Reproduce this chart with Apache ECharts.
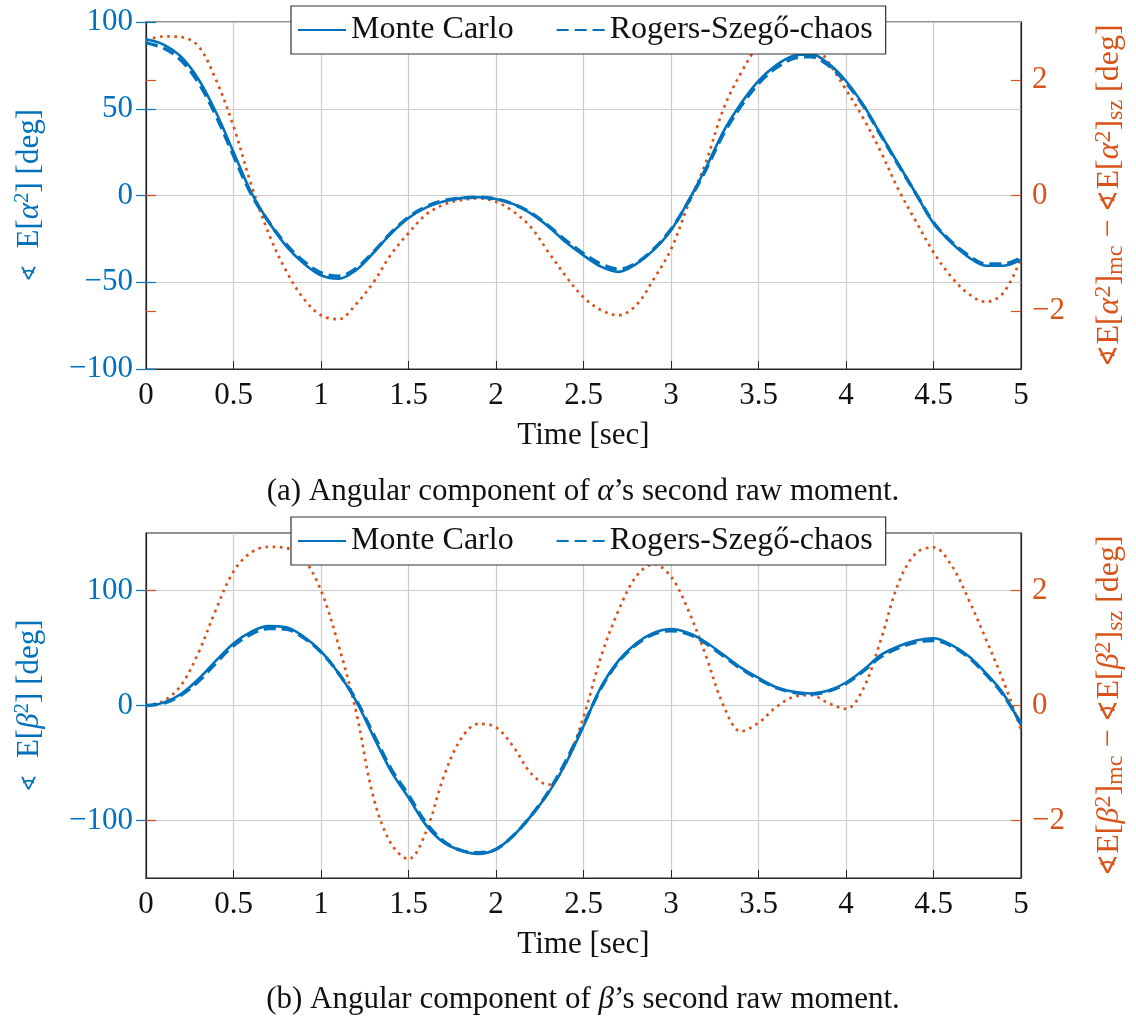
<!DOCTYPE html>
<html><head><meta charset="utf-8">
<script src="https://cdn.jsdelivr.net/npm/echarts@6/dist/echarts.min.js"></script>
<style>html,body{margin:0;padding:0;background:#fff}#c{width:1136px;height:1023px}</style>
</head><body><div id="c"></div>
<script>
// ---------- data ----------
const times = [0,0.1,0.2,0.3,0.4,0.5,0.6,0.7,0.8,0.9,1.0,1.1,1.2,1.3,1.4,1.5,1.6,1.7,1.8,1.9,2.0,2.1,2.2,2.3,2.4,2.5,2.6,2.7,2.8,2.9,3.0,3.1,3.2,3.3,3.4,3.5,3.6,3.7,3.8,3.9,4.0,4.1,4.2,4.3,4.4,4.5,4.6,4.7,4.8,4.9,5.0];

const alphaMonteCarlo = [90,87,80,67,48,25,2,-15,-29,-39, -46,-48,-43,-33,-22,-13,-7,-3.5,-1.5,-1, -2,-5,-10.5,-18,-27,-34.5,-41,-44,-39.5,-31.5, -20,-3,16,37,53,66,75,80.5,81.5,76, 66,52,35,18,1,-16,-27,-35.5,-40.5,-40.5,-37];
const alphaRogersSzego = [88,85,78,65,46,23,1,-15,-28,-38, -44.5,-46.5,-42,-32.5,-21.5,-12.5,-6.5,-3,-1.5,-1, -2,-5,-10,-17.5,-26,-33.5,-39.5,-42.5,-39,-31, -19.5,-3.5,15,35.5,51.5,64.5,73.5,79,80,75, 65,51.5,34.5,17.5,1,-15.5,-26.5,-34.5,-39.5,-39.5,-36];
const alphaDifference = [2.68,2.75,2.74,2.58,2.0,1.2,0.2,-0.65,-1.3,-1.78, -2.07,-2.14,-1.88,-1.5,-1.02,-0.65,-0.33,-0.16,-0.08,-0.05, -0.11,-0.28,-0.55,-0.98,-1.4,-1.76,-1.98,-2.07,-1.9,-1.45, -0.93,-0.15,0.58,1.5,2.12,2.6,2.9,2.95,2.72,2.3, 1.83,1.33,0.75,0.1,-0.45,-0.98,-1.4,-1.7,-1.84,-1.68,-1.09];

const betaMonteCarlo = [0,2.5,10,23,39,54,64,69,68,60, 47,28,4,-27,-57,-80,-104,-119,-126,-129, -125,-113,-96,-76,-50,-18,16,39,54,63, 66.5,63,55,44,33,24,16,12,10.5,13, 20,31,44,51.5,56.5,58.5,53,43,28,10,-17];
const betaRogersSzego = [0,2,9,21,37,52,62,67,66.5,59, 46.5,28,5,-25,-55,-78,-102,-118,-126,-128, -125,-113,-96,-75,-48,-17,15,38,53,62, 65,62,54,43,32,23,15.5,11.5,10,12.5, 19,30,42.5,50,55,56.5,52,42,27,9,-16];
const betaDifference = [0,0.08,0.35,0.92,1.67,2.33,2.66,2.76,2.74,2.55, 2.0,1.05,-0.1,-1.6,-2.4,-2.67,-2.2,-1.25,-0.58,-0.32, -0.38,-0.72,-1.18,-1.38,-1.0,-0.2,0.85,1.65,2.24,2.46, 2.24,1.65,0.86,0.0,-0.45,-0.3,-0.03,0.15,0.18,0.04, -0.06,0.3,1.15,2.13,2.65,2.75,2.45,1.85,1.15,0.42,-0.42];

const seriesNames = ['Monte Carlo', 'Rogers-Szegő-chaos'];
const xTickValues = {min: 0, max: 5, interval: 0.5};
const alphaLeftTicks = {min: -100, max: 100, interval: 50};
const betaLeftRange = {min: -150, max: 150};
const betaLeftTickValues = [-100, 0, 100];
const rightRange = {min: -3, max: 3};
const rightTickValues = [-2, 0, 2];

// ---------- style ----------
const FONT = '"Liberation Serif", "DejaVu Serif", serif';
const BLUE = '#0072BD';
const ORANGE = '#D95319';
const DARK = '#262626';
const GRIDC = '#cccccc';
const FS = 31;
const pair = arr => times.map((t, i) => [t, arr[i]]);
const minus = v => String(v).replace('-', '\u2212');

function richFor(color, big) {
  const main = big ? 32 : FS, small = big ? 24 : 21, ang = big ? 26 : 21;
  return {
    a: {fontFamily: FONT, fontSize: main, color: color, lineHeight: 36},
    g: {fontFamily: FONT, fontSize: ang, color: color, lineHeight: 36},
    i: {fontFamily: FONT, fontSize: main, fontStyle: 'italic', color: color, lineHeight: 36},
    s: {fontFamily: FONT, fontSize: small, color: color, verticalAlign: 'top', lineHeight: small},
    b: {fontFamily: FONT, fontSize: small, color: color, verticalAlign: 'bottom', lineHeight: small}
  };
}

const grids = [
  {left: 146, right: 114, top: 22, height: 347, show: true, borderColor: DARK, borderWidth: 1.2, backgroundColor: 'transparent'},
  {left: 146, right: 114, top: 533, height: 345, show: true, borderColor: DARK, borderWidth: 1.2, backgroundColor: 'transparent'}
];

function xAxis(g) {
  return {
    type: 'value', gridIndex: g, min: xTickValues.min, max: xTickValues.max, interval: xTickValues.interval,
    axisLine: {show: true, onZero: false, lineStyle: {color: DARK, width: 1.2}},
    axisTick: {show: true, inside: true, length: 8, lineStyle: {color: DARK}},
    axisLabel: {color: '#111', fontFamily: FONT, fontSize: FS, margin: 11},
    splitLine: {show: true, lineStyle: {color: GRIDC, width: 1.2}},
    name: 'Time [sec]', nameLocation: 'middle', nameGap: 51,
    nameTextStyle: {color: '#111', fontFamily: FONT, fontSize: FS}
  };
}

function leftMain(g, range, interval, customTicks, sym) {
  const ax = {
    type: 'value', gridIndex: g, position: 'left', min: range.min, max: range.max,
    axisLine: {show: true, onZero: false, lineStyle: {color: DARK, width: 1.2}},
    axisTick: {show: true, inside: true, length: 10, lineStyle: {color: BLUE, width: 1.2}},
    axisLabel: {color: BLUE, fontFamily: FONT, fontSize: FS, margin: 13, formatter: minus},
    splitLine: {show: true, lineStyle: {color: GRIDC, width: 1.2}},
    name: '{g|∢}{a|  E[}{i|' + sym + '}{s|2}{a|] [deg]}', nameLocation: 'middle', nameGap: 98,
    nameTextStyle: {rich: richFor(BLUE, false)}
  };
  if (interval) ax.interval = interval;
  if (customTicks) { ax.axisTick.customValues = customTicks; ax.axisLabel.customValues = customTicks; }
  return ax;
}
function rightMain(g, sym) {
  return {
    type: 'value', gridIndex: g, position: 'right', min: rightRange.min, max: rightRange.max, interval: 1,
    axisLine: {show: true, onZero: false, lineStyle: {color: DARK, width: 1.2}},
    axisTick: {show: true, inside: true, length: 10, customValues: rightTickValues, lineStyle: {color: ORANGE, width: 1.2}},
    axisLabel: {color: ORANGE, fontFamily: FONT, fontSize: FS, margin: 11, customValues: rightTickValues, formatter: minus},
    splitLine: {show: false},
    name: '{g|∢}{a|E[}{i|' + sym + '}{s|2}{a|]}{b|mc}{a| − }{g|∢}{a|E[}{i|' + sym + '}{s|2}{a|]}{b|sz}{a| [deg]}',
    nameLocation: 'middle', nameGap: 71,
    nameTextStyle: {rich: richFor(ORANGE, true)}
  };
}
function mirrorBlue(g, range, interval, customTicks) {
  const ax = {
    type: 'value', gridIndex: g, position: 'right', min: range.min, max: range.max,
    axisLine: {show: false}, axisLabel: {show: false}, splitLine: {show: false},
    axisTick: {show: true, inside: true, length: 10, lineStyle: {color: BLUE, width: 1.2}}
  };
  if (interval) ax.interval = interval;
  if (customTicks) ax.axisTick.customValues = customTicks;
  return ax;
}
function mirrorOrange(g) {
  return {
    type: 'value', gridIndex: g, position: 'left', min: rightRange.min, max: rightRange.max, interval: 1,
    axisLine: {show: false}, axisLabel: {show: false}, splitLine: {show: false},
    axisTick: {show: true, inside: true, length: 10, customValues: rightTickValues, lineStyle: {color: ORANGE, width: 1.2}}
  };
}

function lines(g, yMain, yRight, mc, rs, diff) {
  return [
    {type: 'line', xAxisIndex: g, yAxisIndex: yRight, data: pair(diff), symbol: 'none', smooth: 0.35, z: 2,
     lineStyle: {color: ORANGE, width: 2.7, type: [2.7, 4.5]}, itemStyle: {color: ORANGE}, clip: true},
    {type: 'line', name: seriesNames[0], xAxisIndex: g, yAxisIndex: yMain, data: pair(mc), symbol: 'none', smooth: 0.35, z: 3,
     lineStyle: {color: BLUE, width: 2.6, type: 'solid'}, itemStyle: {color: BLUE}, clip: true},
    {type: 'line', name: seriesNames[1], xAxisIndex: g, yAxisIndex: yMain, data: pair(rs), symbol: 'none', smooth: 0.35, z: 4,
     lineStyle: {color: BLUE, width: 3.4, type: [12, 6]}, itemStyle: {color: BLUE}, clip: true}
  ];
}

function legend(top) {
  return {
    data: seriesNames, left: 291, top: top, orient: 'horizontal',
    backgroundColor: '#fff', borderColor: '#333', borderWidth: 1.2, borderRadius: 0,
    padding: [8, 13, 8, 6], itemWidth: 48, itemHeight: 14, itemGap: 42,
    itemStyle: {opacity: 0, borderWidth: 0},
    textStyle: {fontFamily: FONT, fontSize: 32, color: '#111'}, selectedMode: false
  };
}

const chart = echarts.init(document.getElementById('c'), null, {renderer: 'canvas'});
chart.setOption({
  animation: false,
  backgroundColor: '#fff',
  grid: grids,
  legend: [legend(6), legend(517)],
  xAxis: [xAxis(0), xAxis(1)],
  yAxis: [
    leftMain(0, alphaLeftTicks, alphaLeftTicks.interval, null, 'α'),
    rightMain(0, 'α'),
    mirrorBlue(0, alphaLeftTicks, alphaLeftTicks.interval, null),
    mirrorOrange(0),
    leftMain(1, betaLeftRange, 50, betaLeftTickValues, 'β'),
    rightMain(1, 'β'),
    mirrorBlue(1, betaLeftRange, 50, betaLeftTickValues),
    mirrorOrange(1)
  ],
  series: [].concat(
    lines(0, 0, 1, alphaMonteCarlo, alphaRogersSzego, alphaDifference),
    lines(1, 4, 5, betaMonteCarlo, betaRogersSzego, betaDifference)
  ),
  graphic: [
    {type: 'text', x: 583, y: 492, style: {text: '(a) Angular component of {i|α}’s second raw moment.', fill: '#111', font: FS + 'px ' + FONT, align: 'center', verticalAlign: 'middle', rich: {i: {fontFamily: FONT, fontSize: FS, fontStyle: 'italic', color: '#111'}}}},
    {type: 'text', x: 583, y: 1000, style: {text: '(b) Angular component of {i|β}’s second raw moment.', fill: '#111', font: FS + 'px ' + FONT, align: 'center', verticalAlign: 'middle', rich: {i: {fontFamily: FONT, fontSize: FS, fontStyle: 'italic', color: '#111'}}}}
  ]
});
</script></body></html>
